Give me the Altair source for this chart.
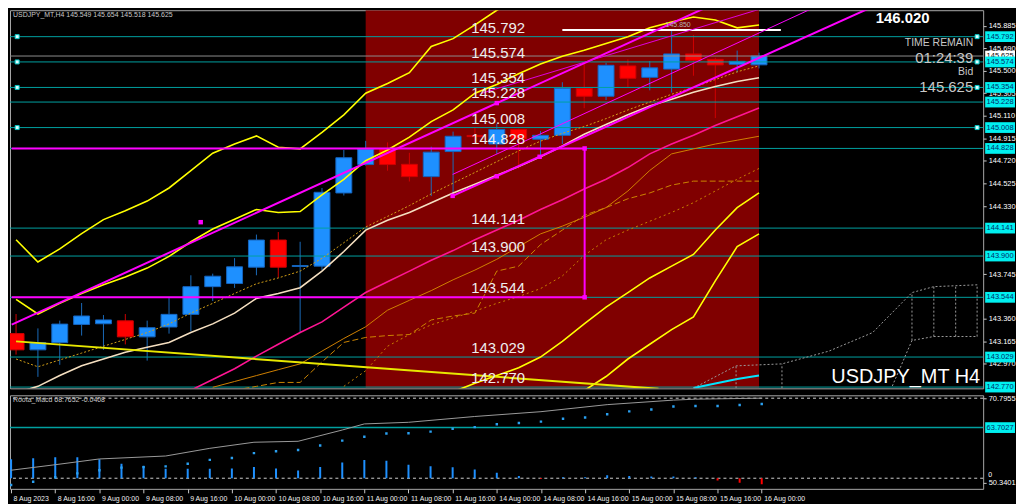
import json
import altair as alt
import pandas as pd

# ---------------- text ----------------
SYMBOL_HEADER = "USDJPY_MT,H4  145.549 145.654 145.518 145.625"
CHART_TITLE = "USDJPY_MT H4"
IND_HEADER = "Roota_Macd 68.7652  -0.0408"
PANEL_TEXT = ["TIME REMAIN", "01:24:39", "Bid", "145.625"]
MAX_PRICE_TEXT = "146.020"
HIGH_MARK_TEXT = "145.850"

X_LABELS = ["8 Aug 2023", "8 Aug 16:00", "9 Aug 00:00", "9 Aug 08:00", "9 Aug 16:00",
            "10 Aug 00:00", "10 Aug 08:00", "10 Aug 16:00", "11 Aug 00:00", "11 Aug 08:00",
            "11 Aug 16:00", "14 Aug 00:00", "14 Aug 08:00", "14 Aug 16:00", "15 Aug 00:00",
            "15 Aug 08:00", "15 Aug 16:00", "16 Aug 00:00"]
X_LABEL_IDX = list(range(0, 35, 2))

# ---------------- candles (H4 bars, index 0 = 8 Aug 08:00) ----------------
OPEN = [143.231, 143.091, 143.153, 143.310, 143.316, 143.341, 143.203, 143.288, 143.397, 143.636,
        143.663, 143.804, 144.038, 143.810, 143.813, 144.444, 144.689, 144.823, 144.691, 144.585,
        144.801, 144.940, 144.866, 144.992, 144.908, 144.941, 145.348, 145.278, 145.540, 145.441,
        145.512, 145.643, 145.596, 145.554, 145.549]
HIGH = [143.400, 143.276, 143.343, 143.495, 143.391, 143.400, 143.343, 143.537, 143.734, 143.748,
        143.882, 144.085, 144.107, 144.023, 144.487, 144.815, 144.893, 144.880, 144.790, 144.843,
        144.973, 145.006, 145.040, 144.998, 144.978, 145.399, 145.562, 145.567, 145.596, 145.582,
        145.850, 145.807, 145.610, 145.672, 145.654]
LOW = [143.050, 142.858, 142.962, 143.214, 143.091, 143.138, 142.998, 143.231, 143.251, 143.512,
       143.625, 143.734, 143.714, 143.237, 143.776, 144.422, 144.680, 144.636, 144.543, 144.417,
       144.417, 144.870, 144.781, 144.655, 144.754, 144.866, 145.175, 145.245, 145.357, 145.329,
       145.310, 145.455, 145.090, 145.483, 145.518]
CLOSE = [143.091, 143.153, 143.313, 143.383, 143.349, 143.203, 143.282, 143.397, 143.636, 143.726,
         143.807, 144.038, 143.804, 143.818, 144.450, 144.748, 144.823, 144.689, 144.585, 144.796,
         144.933, 144.930, 144.992, 144.910, 144.941, 145.348, 145.278, 145.545, 145.433, 145.523,
         145.643, 145.588, 145.548, 145.579, 145.625]

# ---------------- levels ----------------
LEVELS = [145.792, 145.574, 145.354, 145.228, 145.008, 144.828, 144.141, 143.900, 143.544, 143.029, 142.770]
MARKED_LEVELS = [145.792, 145.574, 145.354, 145.008]
LEVEL_TEXT_IDX = 20.83
BID = 145.625
HIGH_MARK = 145.850
HIGH_MARK_SPAN = [25.0, 35.0]
SHADE_SPAN = [16, 34]
BOX_TOP, BOX_BOTTOM, BOX_END = 144.828, 143.544, 26.02
PRICE_TICKS = [145.885, 145.690, 145.500, 145.305, 145.110, 144.915, 144.720, 144.525,
               144.330, 143.745, 143.360, 143.165, 142.970]

# ---------------- indicator lines on price (start index, values) ----------------
BAND_UP3_START = 0
BAND_UP3 = [144.040, 143.849, 143.962, 144.093, 144.214, 144.290, 144.374, 144.487, 144.636, 144.787,
            144.866, 144.936, 144.838, 144.824, 144.967, 145.118, 145.304, 145.388, 145.481, 145.708,
            145.775, 145.893, 146.020, 146.120]
BAND_UP2_START = 0
BAND_UP2 = [143.526, 143.400, 143.492, 143.577, 143.652, 143.720, 143.796, 143.897, 144.023, 144.133,
            144.217, 144.301, 144.276, 144.284, 144.428, 144.562, 144.722, 144.815, 144.925, 145.059,
            145.160, 145.304, 145.380, 145.472, 145.556, 145.624, 145.674, 145.733, 145.792, 145.868,
            145.919, 145.961, 145.936, 145.868, 145.893]
BAND_LO2_START = 20
BAND_LO2 = [142.730, 142.802, 142.869, 142.936, 143.029, 143.164, 143.315, 143.459, 143.585, 143.711,
            143.813, 143.914, 144.124, 144.318, 144.444]
BAND_LO3_START = 26
BAND_LO3 = [142.740, 142.861, 143.012, 143.139, 143.265, 143.374, 143.686, 143.981, 144.091]
MA_WHEAT_START = 0
MA_WHEAT = [142.720, 142.776, 142.869, 142.953, 143.012, 143.071, 143.113, 143.155, 143.240, 143.315,
            143.408, 143.535, 143.577, 143.627, 143.770, 143.939, 144.124, 144.209, 144.276, 144.360,
            144.444, 144.520, 144.596, 144.672, 144.756, 144.849, 144.950, 145.034, 145.118, 145.194,
            145.253, 145.312, 145.363, 145.405, 145.438]
MA_DOTTED_START = 0
MA_DOTTED = [143.012, 142.945, 143.004, 143.063, 143.122, 143.181, 143.240, 143.315, 143.408, 143.492,
             143.577, 143.661, 143.711, 143.770, 143.880, 144.015, 144.150, 144.242, 144.335, 144.436,
             144.529, 144.621, 144.714, 144.807, 144.891, 144.958, 145.017, 145.085, 145.160, 145.228,
             145.295, 145.354, 145.422, 145.489, 145.540]
PINK_START = 8
PINK = [142.743, 142.835, 142.928, 143.037, 143.139, 143.240, 143.332, 143.459, 143.585, 143.678,
        143.770, 143.863, 143.947, 144.040, 144.124, 144.209, 144.301, 144.385, 144.478, 144.562,
        144.663, 144.781, 144.866, 144.941, 145.026, 145.102, 145.177]
SPAN_START = 9
SPAN = [142.768, 142.818, 142.869, 142.920, 142.970, 143.080, 143.189, 143.290, 143.433, 143.518,
        143.602, 143.695, 143.779, 143.872, 143.981, 144.091, 144.158, 144.234, 144.318, 144.461,
        144.638, 144.781, 144.824, 144.866, 144.899, 144.933]
KIJUN_START = 10
KIJUN = [142.743, 142.776, 142.810, 142.810, 142.987, 143.155, 143.198, 143.214, 143.223, 143.349,
         143.383, 143.408, 143.770, 143.813, 143.998, 144.124, 144.251, 144.318, 144.394, 144.444,
         144.512, 144.546, 144.546, 144.546, 144.546]
DOTTED2_START = 15
DOTTED2 = [142.776, 142.911, 143.122, 143.223, 143.307, 143.366, 143.425, 143.492, 143.551, 143.619,
           143.728, 143.905, 144.040, 144.124, 144.200, 144.276, 144.360, 144.461, 144.562, 144.655]
CYAN_START = 31
CYAN = [142.762, 142.800, 142.840, 142.869]

# trend lines (index, price)
TREND_YELLOW = [(0.0, 143.164), (29.4, 142.755)]
MAGENTA_A = [(-0.2, 143.309), (31.6, 146.045)]
MAGENTA_B = [(19.98, 144.604), (36.6, 146.05)]
MAGENTA_C = [(19.98, 144.419), (39.2, 146.05)]
MAGENTA_D = [(21.32, 145.304), (34.4, 146.05)]
MAGENTA_POINTS = [(26.02, 144.828), (26.02, 143.544), (19.98, 144.419), (22.0, 144.588),
                  (23.96, 144.756), (22.0, 145.219), (8.45, 144.192)]

# projected cloud (dotted)
CLOUD_A_IDX = [31.0, 32.95, 35.05, 37.2, 39.2, 41.0, 42.0, 43.0, 44.0]
CLOUD_A = [142.760, 142.953, 142.970, 143.080, 143.240, 143.585, 143.636, 143.644, 143.652]
CLOUD_B_IDX = [40.1, 41.0, 42.0, 43.0, 44.0]
CLOUD_B = [142.779, 143.172, 143.206, 143.206, 143.206]
CLOUD_V_IDX = [32.95, 35.05, 41.0, 42.0, 43.0, 43.98]
CLOUD_V_LO = [142.76, 142.76, 143.172, 143.206, 143.206, 143.206]
CLOUD_V_HI = [142.953, 142.970, 143.585, 143.636, 143.644, 143.652]

# ---------------- lower indicator ----------------
IND_TICKS = [70.7955, 50.3401]
IND_LEVEL = 63.7027
IND_TOP_DOT = 70.7955
HIST_ZERO = 51.49
IND_HIST = [56.07, 56.31, 56.54, 56.54, 56.07, 54.98, 54.52, 53.75, 53.75, 53.75,
            53.82, 54.21, 53.82, 53.35, 54.21, 55.29, 55.91, 55.68, 54.75, 54.35,
            54.12, 53.59, 52.82, 52.03, 51.33, 51.73, 51.73, 52.19, 52.03, 51.89,
            51.89, 51.73, 50.96, 50.40, 50.03]
IND_DOTS = [49.87, 50.63, 51.72, 52.66, 53.42, 54.05, 54.17, 54.35, 54.98, 55.91,
            56.38, 57.54, 58.00, 58.31, 59.40, 60.56, 61.50, 62.26, 62.35, 62.73,
            63.42, 63.82, 64.52, 64.82, 65.15, 65.84, 66.15, 66.91, 67.61, 68.07,
            68.77, 68.93, 68.93, 69.17, 69.40]
IND_GRAY_IDX = [0, 2, 4, 7, 9, 11, 13, 15, 16, 18, 21, 24, 27, 30, 31, 34]
IND_GRAY = [53.42, 54.75, 56.14, 56.85, 58.70, 60.17, 60.40, 63.12, 64.59, 64.98,
            66.38, 67.54, 69.24, 70.33, 70.56, 70.80]

# ---------------- layout / style ----------------
W, H1, H2 = 978, 380, 94
X_DOM = [-0.05, 44.03]
Y_DOM = [142.759, 146.020]
I_DOM = [48.93, 71.49]
SANS = "Liberation Sans"
BOX_PATH = "M-1,-0.36H1V0.36H-1Z"
BOX_SIZE = 900
BOX_X = W + 17

xs = alt.Scale(domain=X_DOM, nice=False, zero=False)
ys = alt.Scale(domain=Y_DOM, nice=False, zero=False)
iscale = alt.Scale(domain=I_DOM, nice=False, zero=False)

Y_AX = alt.Axis(orient="right", values=PRICE_TICKS, format=".3f", title=None, grid=False,
                domain=False, labelColor="#ffffff", labelFont=SANS, labelFontSize=7.5,
                tickColor="#c8c8c8", tickSize=3, labelPadding=2, labelOverlap=False, zindex=0)
I_AX = alt.Axis(orient="right", values=IND_TICKS, format=".4f", title=None, grid=False,
                domain=False, labelColor="#ffffff", labelFont=SANS, labelFontSize=7.5,
                tickColor="#c8c8c8", tickSize=3, labelPadding=2, labelOverlap=False, zindex=0)
X_AX = alt.Axis(values=X_LABEL_IDX, labelExpr=json.dumps(X_LABELS) + "[round(datum.value / 2)]",
                labelAlign="left", labelFlush=False, labelOverlap=False, labelColor="#f0f0f0",
                labelFont=SANS, labelFontSize=7, labelOffset=2, labelPadding=2,
                tickColor="#c8c8c8", tickSize=4, domain=False, grid=False, title=None)


def MX(f="i"):
    return alt.X(f"{f}:Q", scale=xs, axis=None)


def MY(f="v"):
    return alt.Y(f"{f}:Q", scale=ys, axis=Y_AX)


def seq(start, vals):
    return pd.DataFrame({"i": [start + k for k in range(len(vals))], "v": vals})


def pts(pairs):
    return pd.DataFrame({"i": [p[0] for p in pairs], "v": [p[1] for p in pairs]})


def line(df, color, width=1.0, dash=None, interp="linear"):
    props = dict(color=color, strokeWidth=width, clip=True, interpolate=interp)
    if dash:
        props["strokeDash"] = dash
    return alt.Chart(df).mark_line(**props).encode(x=MX(), y=MY())


def label(text, x, y, size, color, align="left", baseline="middle", font=SANS, weight="normal"):
    return alt.Chart(pd.DataFrame({"t": [text]})).mark_text(
        align=align, baseline=baseline, font=font, fontSize=size, color=color, fontWeight=weight
    ).encode(x=alt.value(x), y=alt.value(y), text="t:N")


# ---------------- main panel ----------------
candles = pd.DataFrame({"i": list(range(len(OPEN))), "o": OPEN, "h": HIGH, "l": LOW, "c": CLOSE})
up = candles[candles.c >= candles.o]
down = candles[candles.c < candles.o]

shade = alt.Chart(pd.DataFrame({"a": [SHADE_SPAN[0]], "b": [SHADE_SPAN[1]]})).mark_rect(
    color="#800000", clip=True).encode(x=MX("a"), x2=alt.X2("b:Q"), y=alt.value(0), y2=alt.value(H1))

layers = [shade]

for df, wick, body, edge in [(up, "#1a6ab8", "#1e90ff", "#1565c0"), (down, "#d00000", "#ff0000", "#d00000")]:
    layers.append(alt.Chart(df).mark_rule(color=wick, strokeWidth=1, clip=True).encode(
        x=MX(), y=MY("l"), y2=alt.Y2("h:Q")))
    layers.append(alt.Chart(df).mark_bar(size=16, color=body, stroke=edge, strokeWidth=1, clip=True).encode(
        x=MX(), y=MY("o"), y2=alt.Y2("c:Q")))

levels_df = pd.DataFrame({"v": LEVELS, "t": [f"{v:.3f}" for v in LEVELS], "lx": [LEVEL_TEXT_IDX] * len(LEVELS)})
layers.append(alt.Chart(levels_df).mark_rule(color="#00a0a0", strokeWidth=1).encode(y=MY()))
layers.append(alt.Chart(pd.DataFrame({"v": [BID]})).mark_rule(color="#8c8c8c", strokeWidth=1).encode(y=MY()))

# indicators
layers += [
    line(seq(KIJUN_START, KIJUN), "#cc8400", 1, [6, 3]),
    line(seq(DOTTED2_START, DOTTED2), "#c88000", 1, [2, 3]),
    line(seq(SPAN_START, SPAN), "#d08000", 1),
    line(seq(MA_DOTTED_START, MA_DOTTED), "#d4a017", 1, [2, 2]),
    line(seq(MA_WHEAT_START, MA_WHEAT), "#f5dfc0", 1.6),
    line(seq(PINK_START, PINK), "#ff1493", 1.6),
    line(seq(BAND_UP3_START, BAND_UP3), "#ffff00", 1.6),
    line(seq(BAND_UP2_START, BAND_UP2), "#ffff00", 1.6),
    line(seq(BAND_LO2_START, BAND_LO2), "#ffff00", 1.6),
    line(seq(BAND_LO3_START, BAND_LO3), "#ffff00", 1.6),
    line(pts(TREND_YELLOW), "#e8e800", 2),
    line(seq(CYAN_START, CYAN), "#00e5ff", 2),
    line(pd.DataFrame({"i": CLOUD_A_IDX, "v": CLOUD_A}), "#9a9a9a", 1, [2, 2]),
    line(pd.DataFrame({"i": CLOUD_B_IDX, "v": CLOUD_B}), "#9a9a9a", 1, [2, 2]),
]
layers.append(alt.Chart(pd.DataFrame({"i": CLOUD_V_IDX, "a": CLOUD_V_LO, "b": CLOUD_V_HI})).mark_rule(
    color="#9a9a9a", strokeWidth=1, strokeDash=[2, 2], clip=True).encode(x=MX(), y=MY("a"), y2=alt.Y2("b:Q")))

# high marker
layers.append(alt.Chart(pd.DataFrame({"a": [HIGH_MARK_SPAN[0]], "b": [HIGH_MARK_SPAN[1]], "v": [HIGH_MARK]})).mark_rule(
    color="#ffffff", strokeWidth=2, clip=True).encode(x=MX("a"), x2=alt.X2("b:Q"), y=MY()))

# magenta objects
layers += [
    line(pts(MAGENTA_A), "#ff00ff", 2),
    line(pts(MAGENTA_B), "#ff00ff", 1),
    line(pts(MAGENTA_C), "#ff00ff", 2),
    line(pts(MAGENTA_D), "#e000e0", 1),
]
layers.append(alt.Chart(pd.DataFrame({"a": [-0.2, -0.2], "b": [BOX_END, BOX_END], "v": [BOX_TOP, BOX_BOTTOM]})).mark_rule(
    color="#ff00ff", strokeWidth=2, clip=True).encode(x=MX("a"), x2=alt.X2("b:Q"), y=MY()))
layers.append(alt.Chart(pd.DataFrame({"i": [BOX_END], "a": [BOX_BOTTOM], "b": [BOX_TOP]})).mark_rule(
    color="#ff00ff", strokeWidth=2, clip=True).encode(x=MX(), y=MY("a"), y2=alt.Y2("b:Q")))
layers.append(alt.Chart(pts(MAGENTA_POINTS)).mark_square(size=20, color="#ff00ff", opacity=1).encode(x=MX(), y=MY()))

# level end markers
ends = pd.DataFrame({"i": [0.05] * len(MARKED_LEVELS) + [43.98] * len(MARKED_LEVELS),
                     "v": MARKED_LEVELS + MARKED_LEVELS})
layers.append(alt.Chart(ends).mark_square(size=16, color="#e0ffff", stroke="#00c8c8", strokeWidth=1,
                                          opacity=1).encode(x=MX(), y=MY()))

# texts
layers.append(alt.Chart(levels_df).mark_text(align="left", baseline="bottom", dy=-1, font=SANS, fontSize=15,
                                             color="#eeeeee").encode(x=MX("lx"), y=MY(), text="t:N"))
layers.append(alt.Chart(pd.DataFrame({"i": [30.3], "v": [HIGH_MARK], "t": [HIGH_MARK_TEXT]})).mark_text(
    align="center", baseline="bottom", dy=-2, font=SANS, fontSize=7, color="#b4b4b4").encode(
    x=MX(), y=MY(), text="t:N"))
layers += [
    label(SYMBOL_HEADER, 3, 5, 7, "#c8c8c8"),
    label(MAX_PRICE_TEXT, 870, 8, 15, "#ffffff", weight="bold"),
    label(PANEL_TEXT[0], W - 10, 33, 10.5, "#c8c8c8", align="right"),
    label(PANEL_TEXT[1], W - 10, 48, 15, "#c8c8c8", align="right"),
    label(PANEL_TEXT[2], W - 10, 62, 10.5, "#c8c8c8", align="right"),
    label(PANEL_TEXT[3], W - 10, 77, 15, "#c8c8c8", align="right"),
    label(CHART_TITLE, W - 3, 369, 20, "#ffffff", align="right"),
]

# right axis boxes
layers.append(alt.Chart(pd.DataFrame({"v": [BID]})).mark_point(
    shape=BOX_PATH, size=BOX_SIZE, filled=True, color="#ffffff", opacity=1, strokeWidth=0).encode(
    x=alt.value(BOX_X), y=MY()))
layers.append(alt.Chart(pd.DataFrame({"v": [BID], "t": [f"{BID:.3f}"]})).mark_text(
    font=SANS, fontSize=7.5, color="#000000").encode(x=alt.value(BOX_X), y=MY(), text="t:N"))
layers.append(alt.Chart(levels_df).mark_point(
    shape=BOX_PATH, size=BOX_SIZE, filled=True, color="#00f0f0", opacity=1, strokeWidth=0).encode(
    x=alt.value(BOX_X), y=MY()))
layers.append(alt.Chart(levels_df).mark_text(font=SANS, fontSize=7.5, color="#002a6a").encode(
    x=alt.value(BOX_X), y=MY(), text="t:N"))

main = alt.layer(*layers).properties(width=W, height=H1)


# ---------------- indicator panel ----------------
def IX(f="i"):
    return alt.X(f"{f}:Q", scale=xs, axis=X_AX)


def IY(f="v"):
    return alt.Y(f"{f}:Q", scale=iscale, axis=I_AX)


hist = pd.DataFrame({"i": list(range(len(IND_HIST))), "v": IND_HIST, "z": [HIST_ZERO] * len(IND_HIST)})
hist_up = hist[hist.v >= HIST_ZERO]
hist_dn = hist[hist.v < HIST_ZERO]

ind_layers = [
    alt.Chart(pd.DataFrame({"v": [IND_TOP_DOT, HIST_ZERO]})).mark_rule(
        color="#d0d0d0", strokeWidth=1, strokeDash=[3, 3]).encode(y=IY()),
    alt.Chart(pd.DataFrame({"v": [IND_LEVEL]})).mark_rule(color="#00a0a0", strokeWidth=1.5).encode(y=IY()),
    alt.Chart(hist_up).mark_rule(color="#1e90ff", strokeWidth=2, clip=True).encode(
        x=IX(), y=IY("z"), y2=alt.Y2("v:Q")),
    alt.Chart(hist_dn).mark_rule(color="#ff0000", strokeWidth=2, clip=True).encode(
        x=IX(), y=IY("z"), y2=alt.Y2("v:Q")),
    alt.Chart(pd.DataFrame({"i": IND_GRAY_IDX, "v": IND_GRAY})).mark_line(
        color="#9a9a9a", strokeWidth=1, clip=True).encode(x=IX(), y=IY()),
    alt.Chart(pd.DataFrame({"i": list(range(len(IND_DOTS))), "v": IND_DOTS})).mark_square(
        size=6, color="#2aa0f0", opacity=1, clip=True).encode(x=IX(), y=IY()),
    label(IND_HEADER, 3, 5, 7, "#c8c8c8"),
    alt.Chart(pd.DataFrame({"v": [IND_LEVEL]})).mark_point(
        shape=BOX_PATH, size=BOX_SIZE, filled=True, color="#00f0f0", opacity=1, strokeWidth=0).encode(
        x=alt.value(BOX_X), y=IY()),
    alt.Chart(pd.DataFrame({"v": [IND_LEVEL], "t": [f"{IND_LEVEL:.4f}"]})).mark_text(
        font=SANS, fontSize=7.5, color="#002a6a").encode(x=alt.value(BOX_X), y=IY(), text="t:N"),
    alt.Chart(pd.DataFrame({"v": [HIST_ZERO], "t": ["0"]})).mark_text(
        align="left", baseline="bottom", font=SANS, fontSize=7, color="#ffffff").encode(
        x=alt.value(W + 5), y=IY(), text="t:N"),
]
ind = alt.layer(*ind_layers).properties(width=W, height=H2)

chart = (
    alt.vconcat(main, ind, spacing=0)
    .resolve_scale(y="independent")
    .properties(background="#000000", padding=0)
    .configure_view(stroke="#a8a8a8", strokeWidth=1)
)

chart.save("out.html", embed_options={"renderer": "svg", "actions": False})
